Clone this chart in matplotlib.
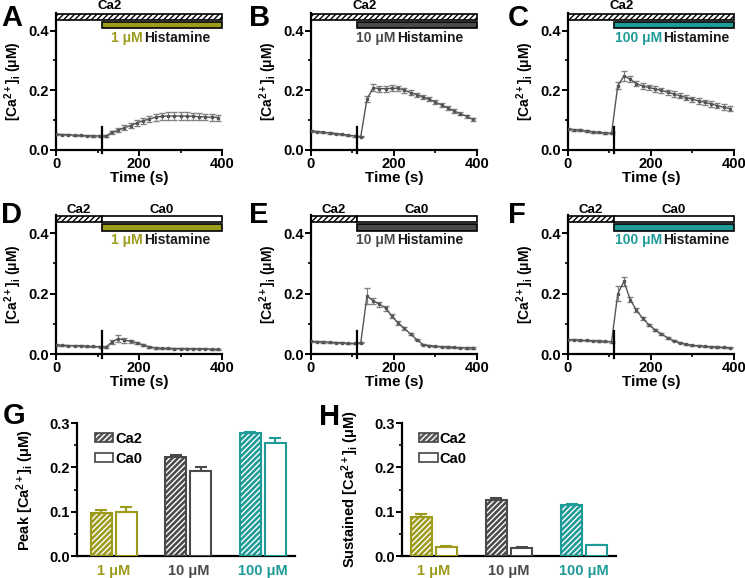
import matplotlib.pyplot as plt
from matplotlib.patches import Rectangle, Patch
from matplotlib.ticker import MultipleLocator

plt.rcParams['font.family'] = ['Liberation Sans', 'DejaVu Sans']
plt.rcParams['font.weight'] = 'bold'
plt.rcParams['axes.labelweight'] = 'bold'
plt.rcParams['mathtext.fontset'] = 'custom'
plt.rcParams['mathtext.rm'] = 'Liberation Sans:bold'
plt.rcParams['mathtext.it'] = 'Liberation Sans:bold'
plt.rcParams['mathtext.bf'] = 'Liberation Sans:bold'
plt.rcParams['hatch.linewidth'] = 1.0

OLIVE = '#9d9b1c'
GRAY = '#4a4a4a'
TEAL = '#1e9a97'

# time points (s)
time = [0, 15, 30, 45, 60, 75, 90, 105, 120, 135, 150, 165, 180, 195, 210,
        225, 240, 255, 270, 285, 300, 315, 330, 345, 360, 375, 390]

# Ca2 (extracellular Ca present)
ca_A = [0.052, 0.051, 0.050, 0.049, 0.048, 0.047, 0.046, 0.046, 0.046, 0.058, 0.066,
        0.074, 0.081, 0.090, 0.097, 0.103, 0.109, 0.112, 0.113, 0.113, 0.113, 0.113,
        0.112, 0.111, 0.110, 0.109, 0.108]
err_A = [0.002, 0.002, 0.002, 0.002, 0.002, 0.002, 0.002, 0.002, 0.003, 0.006, 0.008,
         0.009, 0.009, 0.010, 0.010, 0.011, 0.012, 0.012, 0.012, 0.012, 0.012, 0.012,
         0.012, 0.012, 0.011, 0.011, 0.010]
ca_B = [0.063, 0.061, 0.059, 0.056, 0.054, 0.052, 0.049, 0.046, 0.044, 0.170, 0.208,
        0.205, 0.205, 0.206, 0.206, 0.200, 0.192, 0.185, 0.177, 0.169, 0.160, 0.150,
        0.140, 0.130, 0.121, 0.112, 0.102]
err_B = [0.002, 0.002, 0.002, 0.002, 0.002, 0.002, 0.002, 0.002, 0.003, 0.010, 0.012,
         0.010, 0.010, 0.010, 0.009, 0.008, 0.008, 0.007, 0.007, 0.007, 0.006, 0.006,
         0.006, 0.006, 0.006, 0.006, 0.006]
ca_C = [0.070, 0.067, 0.065, 0.062, 0.060, 0.058, 0.056, 0.055, 0.215, 0.248, 0.236,
        0.222, 0.214, 0.209, 0.204, 0.199, 0.193, 0.187, 0.181, 0.175, 0.169, 0.164,
        0.159, 0.154, 0.148, 0.143, 0.138]
err_C = [0.003, 0.003, 0.003, 0.003, 0.003, 0.003, 0.003, 0.003, 0.012, 0.016, 0.010,
         0.009, 0.009, 0.009, 0.009, 0.009, 0.009, 0.009, 0.009, 0.009, 0.009, 0.009,
         0.009, 0.009, 0.009, 0.009, 0.009]

# Ca0 (extracellular Ca removed)
ca_D = [0.030, 0.029, 0.028, 0.027, 0.027, 0.026, 0.025, 0.024, 0.023, 0.040, 0.051,
        0.046, 0.042, 0.037, 0.030, 0.023, 0.020, 0.019, 0.019, 0.018, 0.018, 0.018,
        0.017, 0.017, 0.017, 0.016, 0.016]
err_D = [0.002, 0.002, 0.002, 0.002, 0.002, 0.002, 0.002, 0.002, 0.002, 0.007, 0.012,
         0.008, 0.006, 0.004, 0.003, 0.002, 0.002, 0.002, 0.002, 0.002, 0.002, 0.002,
         0.002, 0.002, 0.002, 0.002, 0.002]
ca_E = [0.042, 0.041, 0.040, 0.039, 0.038, 0.037, 0.036, 0.035, 0.037, 0.192, 0.176,
        0.165, 0.152, 0.125, 0.103, 0.085, 0.066, 0.048, 0.031, 0.028, 0.026, 0.024,
        0.023, 0.022, 0.021, 0.020, 0.020]
err_E = [0.002, 0.002, 0.002, 0.002, 0.002, 0.002, 0.002, 0.002, 0.002, 0.025, 0.010,
         0.008, 0.008, 0.007, 0.006, 0.004, 0.003, 0.002, 0.002, 0.002, 0.002, 0.002,
         0.002, 0.002, 0.002, 0.002, 0.002]
ca_F = [0.048, 0.047, 0.046, 0.045, 0.044, 0.043, 0.042, 0.040, 0.200, 0.240, 0.180,
        0.145, 0.118, 0.097, 0.080, 0.066, 0.054, 0.044, 0.037, 0.032, 0.029, 0.027,
        0.025, 0.024, 0.023, 0.022, 0.021]
err_F = [0.002, 0.002, 0.002, 0.002, 0.002, 0.002, 0.002, 0.002, 0.025, 0.015, 0.008,
         0.006, 0.005, 0.004, 0.004, 0.003, 0.003, 0.002, 0.002, 0.002, 0.002, 0.002,
         0.002, 0.002, 0.002, 0.002, 0.002]

histamine_on = 110

# summary bars
doses = ['1 μM', '10 μM', '100 μM']
dose_colors = [OLIVE, GRAY, TEAL]
peak_ca2 = [0.098, 0.224, 0.278]
peak_ca2_err = [0.006, 0.004, 0.003]
peak_ca0 = [0.099, 0.192, 0.256]
peak_ca0_err = [0.012, 0.010, 0.011]
sust_ca2 = [0.089, 0.127, 0.116]
sust_ca2_err = [0.005, 0.003, 0.002]
sust_ca0 = [0.021, 0.019, 0.025]
sust_ca0_err = [0.002, 0.002, 0.001]

ylab = r'[Ca$^{2+}$]$_i$ ($\mu$M)'

fig = plt.figure(figsize=(7.45, 5.78), dpi=100)


def bold_ticks(ax):
    for lab in ax.get_xticklabels() + ax.get_yticklabels():
        lab.set_fontweight('bold')


def time_panel(rect, y, err, dose, color, split, ca0, letter, letter_xy):
    ax = fig.add_axes(rect)
    ax.errorbar(time, y, yerr=err, color='#555555', ecolor='#808080', lw=1,
                elinewidth=0.8, capsize=2, marker='s', ms=1.5, zorder=3)
    ax.plot([histamine_on, histamine_on], [-0.012, 0.075], color='black', lw=1.6,
            clip_on=False, zorder=4)
    ax.set_xlim(0, 400)
    ax.set_ylim(0, 0.46)
    ax.set_xticks([0, 200, 400])
    ax.xaxis.set_minor_locator(MultipleLocator(100))
    ax.set_yticks([0.0, 0.2, 0.4])
    ax.set_yticklabels(['0.0', '0.2', '0.4'])
    ax.yaxis.set_minor_locator(MultipleLocator(0.1))
    ax.spines['top'].set_visible(False)
    ax.spines['right'].set_visible(False)
    for s in ('left', 'bottom'):
        ax.spines[s].set_linewidth(1.6)
    ax.tick_params(which='major', direction='out', length=4, width=1.4, labelsize=10.5, pad=1)
    ax.tick_params(which='minor', direction='out', length=2.5, width=1.2)
    bold_ticks(ax)
    ax.set_xlabel('Time (s)', fontsize=11, fontweight='bold', labelpad=0)
    ax.set_ylabel(ylab, fontsize=10, fontweight='bold', labelpad=3)

    # solution bars
    if ca0:
        ax.add_patch(Rectangle((0, 0.437), histamine_on, 0.02, facecolor='white',
                               edgecolor='black', hatch='//////', lw=1.2, clip_on=False))
        ax.add_patch(Rectangle((histamine_on, 0.437), 400 - histamine_on, 0.02,
                               facecolor='white', edgecolor='black', lw=1.2, clip_on=False))
        ax.text(histamine_on / 2, 0.478, 'Ca2', ha='center', va='center', fontsize=9.5,
                fontweight='bold')
        ax.text((histamine_on + 400) / 2, 0.478, 'Ca0', ha='center', va='center',
                fontsize=9.5, fontweight='bold')
    else:
        ax.add_patch(Rectangle((0, 0.437), 400, 0.02, facecolor='white',
                               edgecolor='black', hatch='//////', lw=1.2, clip_on=False))
        ax.text(130, 0.482, 'Ca2', ha='center', va='center', fontsize=9.5, fontweight='bold')
    ax.add_patch(Rectangle((histamine_on, 0.407), 400 - histamine_on, 0.022,
                           facecolor=color, edgecolor='black', lw=1.2, clip_on=False))
    ax.text(split, 0.376, dose, ha='right', va='center', fontsize=10, color=color,
            fontweight='bold')
    ax.text(split + 4, 0.376, 'Histamine', ha='left', va='center', fontsize=10,
            color='#1a1a1a', fontweight='bold')
    fig.text(letter_xy[0], letter_xy[1], letter, fontsize=21, fontweight='bold',
             ha='left', va='top')
    return ax


cols = [0.0752, 0.4174, 0.7624]
w = 0.2228
splits = [208, 203, 226]
row1 = [ca_A, ca_B, ca_C]
row1e = [err_A, err_B, err_C]
row2 = [ca_D, ca_E, ca_F]
row2e = [err_D, err_E, err_F]
letx = [0.002, 0.334, 0.682]
for i in range(3):
    time_panel([cols[i], 0.741, w, 0.237], row1[i], row1e[i], doses[i], dose_colors[i],
               splits[i], False, 'ABC'[i], (letx[i], 0.993))
    time_panel([cols[i], 0.3875, w, 0.2405], row2[i], row2e[i], doses[i], dose_colors[i],
               splits[i], True, 'DEF'[i], (letx[i], 0.652))


def bar_panel(rect, ca2, ca2e, ca0, ca0e, ylabel, xlim, letter, letter_xy):
    ax = fig.add_axes(rect)
    off = 0.167
    bw = 0.28
    for i, c in enumerate(dose_colors):
        ax.bar(i - off, ca2[i], bw, color=c, edgecolor='white', hatch='//////', lw=0, zorder=2)
        ax.bar(i - off, ca2[i], bw, fill=False, edgecolor=c, lw=1.5, zorder=3)
        ax.errorbar(i - off, ca2[i], yerr=[[0], [ca2e[i]]], color=c, capsize=4,
                    elinewidth=1.5, capthick=1.5, zorder=1)
        ax.bar(i + off, ca0[i], bw, facecolor='white', edgecolor=c, lw=1.5, zorder=3)
        ax.errorbar(i + off, ca0[i], yerr=[[0], [ca0e[i]]], color=c, capsize=4,
                    elinewidth=1.5, capthick=1.5, zorder=1)
    ax.set_xlim(*xlim)
    ax.set_ylim(0, 0.3)
    ax.set_yticks([0.0, 0.1, 0.2, 0.3])
    ax.set_yticklabels(['0.0', '0.1', '0.2', '0.3'])
    ax.yaxis.set_minor_locator(MultipleLocator(0.05))
    ax.set_xticks([0, 1, 2])
    ax.set_xticklabels(doses)
    for lab, c in zip(ax.get_xticklabels(), dose_colors):
        lab.set_color(c)
    ax.tick_params(axis='x', length=0, labelsize=10.5, pad=6)
    ax.tick_params(axis='y', which='major', length=4, width=1.4, labelsize=10.5, pad=1)
    ax.tick_params(axis='y', which='minor', length=2.5, width=1.2)
    bold_ticks(ax)
    ax.spines['top'].set_visible(False)
    ax.spines['right'].set_visible(False)
    for s in ('left', 'bottom'):
        ax.spines[s].set_linewidth(1.6)
    ax.set_ylabel(ylabel, fontsize=10.5, fontweight='bold', labelpad=10)
    h_ca2 = (Patch(facecolor='#555555', edgecolor='white', hatch='//////', lw=0),
             Patch(fill=False, edgecolor='#444444', lw=1.2))
    h_ca0 = Patch(facecolor='white', edgecolor='#444444', lw=1.2)
    ax.legend([h_ca2, h_ca0], ['Ca2', 'Ca0'], loc='upper left', bbox_to_anchor=(0.04, 1.0),
              frameon=False, prop={'size': 10.5, 'weight': 'bold'}, handlelength=1.3,
              handleheight=0.6, handletextpad=0.1, labelspacing=0.4, borderaxespad=0.2)
    fig.text(letter_xy[0], letter_xy[1], letter, fontsize=21, fontweight='bold',
             ha='left', va='top')
    return ax


bar_panel([0.1034, 0.038, 0.2926, 0.230], peak_ca2, peak_ca2_err, peak_ca0, peak_ca0_err,
          'Peak ' + ylab, (-0.49, 2.43), 'G', (0.004, 0.305))
bar_panel([0.5396, 0.038, 0.2872, 0.230], sust_ca2, sust_ca2_err, sust_ca0, sust_ca0_err,
          'Sustained ' + ylab, (-0.42, 2.42), 'H', (0.428, 0.302))

fig.savefig('out.png', dpi=100)
